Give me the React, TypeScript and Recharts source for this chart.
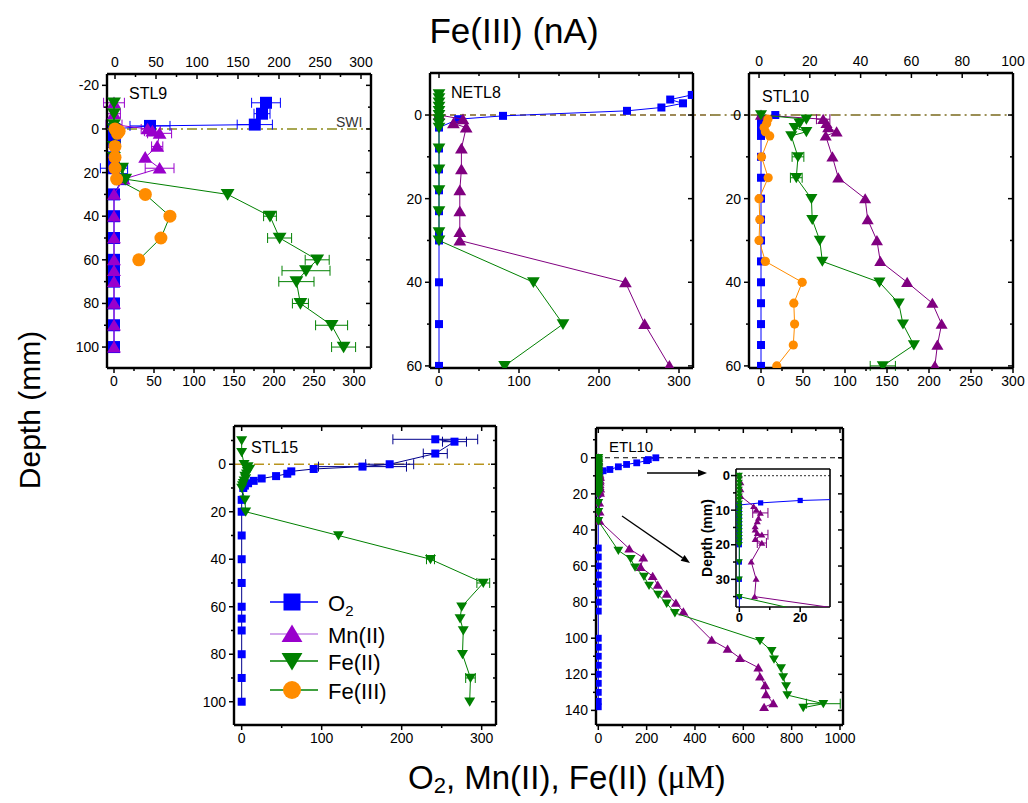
import React from 'react';
import { ScatterChart, Scatter, XAxis, YAxis, ErrorBar, ReferenceLine } from 'recharts';

const BLUE = '#0000FF';
const NAVY = '#00008B';
const PURPLE = '#800080';
const VIOLET = '#9900CC';
const GREEN = '#008000';
const ORANGE = '#FF8C00';
const FONT = "'Liberation Sans', Arial, Helvetica, sans-serif";

// rows are [depth (mm), concentration, error?]
const stl9O2 = [[-12, 190, 18], [-7, 185, 10], [-2, 176, 22], [-1.4, 45, 25], [0, 0], [2, 0], [6, 0, 8], [13, 0], [18, 0, 17], [23, 10, 8], [30, 0], [40, 0], [50, 0], [60, 0], [65, 0], [70, 0], [80, 0], [90, 0], [100, 0]];
const stl9Mn = [[-12, 0, 13], [-7, 0, 8], [-2, 0, 10], [0, 42, 8], [1, 48, 10], [2, 57, 15], [8, 54, 7], [13, 39], [18, 57, 18], [23, 12], [30, 0], [40, 0], [50, 0], [60, 0], [65, 0], [70, 0], [80, 0], [90, 0], [100, 0]];
const stl9Fe2 = [[-12, 0], [-7, 0], [-2, 0], [0, 0], [2, 0], [8, 0], [13, 0], [18, 10], [23, 14], [30, 142], [40, 195, 8], [50, 207, 15], [60, 254, 15], [65, 240, 30], [70, 228, 22], [80, 233, 10], [90, 272, 20], [100, 287, 15]];
const stl9Fe3 = [[0, 0], [1, 5], [2, 3], [8, 0], [13, 0], [18, 0], [23, 2], [30, 37], [40, 67], [50, 56], [60, 29]];

const netl8O2 = [[-4.8, 316], [-3.7, 289], [-2.8, 305], [-1.8, 278], [-1, 235], [0.2, 80], [1, 24], [3, 0], [8, 0], [13, 0], [18, 0], [23, 0], [28, 0], [30, 0], [40, 0], [50, 0], [60, 0]];
const netl8Mn = [[0, 0], [1, 30], [2, 18], [3, 34], [8, 28], [13, 28], [18, 26], [23, 26], [28, 26], [30, 26], [40, 233], [50, 257], [60, 288]];
const netl8Fe2 = [[-5, 0], [-4, 0], [-3, 0], [-2, 0], [-1, 0], [0, 0], [1, 0], [2, 0], [3, 0], [8, 0], [13, 0], [18, 0], [23, 0], [28, 0], [30, 0], [40, 118], [50, 155], [60, 82]];

const stl10O2 = [[0, 17], [1, 0], [2, 0], [3, 0], [4, 0], [5, 0], [10, 0], [15, 0], [20, 0], [25, 0], [30, 0], [35, 0], [40, 0], [45, 0], [50, 0], [55, 0], [60, 0]];
const stl10Mn = [[0, 0], [1, 74, 8], [2, 78], [3, 80], [4, 90], [5, 77], [10, 85], [15, 92], [20, 124], [25, 127], [30, 138], [35, 142], [40, 174], [45, 204], [50, 215], [55, 210], [60, 207]];
const stl10Fe2 = [[0, 0], [1, 54], [2, 46], [3, 40], [4, 54], [5, 36], [10, 44, 7], [15, 42, 7], [20, 60], [25, 61], [30, 70], [35, 73], [40, 141], [45, 164], [50, 169], [55, 182], [60, 145, 15]];
const stl10Fe3 = [[1, 3.5], [2, 3], [3, 2], [4, 2.5], [5, 4.2], [10, 1], [15, 3.6], [20, 0], [25, 0.3], [30, 0], [35, 2.5], [40, 17], [45, 13.7], [50, 14], [55, 13.5], [60, 7]];

const stl15O2 = [[-10.5, 242, 53], [-9.5, 266, 15], [-4.5, 242, 15], [0, 185, 30], [1, 151, 55], [2, 90], [3, 62], [4, 57], [5, 43], [6, 25], [7, 15], [8, 8], [9, 4], [10, 2], [15, 0], [20, 0], [30, 0], [40, 0], [50, 0], [60, 0], [65, 0], [70, 0], [80, 0], [90, 0], [100, 0]];
const stl15Fe2 = [[-10, 0], [-5, 0], [0, 3], [1, 8], [2, 10], [3, 7], [4, 6], [5, 4], [6, 5], [7, 3], [8, 2], [9, 1], [10, 0], [15, 4], [20, 5], [30, 121], [40, 236, 5], [50, 302, 8], [60, 275], [65, 273], [70, 277], [80, 276], [90, 286, 6], [100, 285]];

const etl10O2 = [[0, 238], [1, 207], [1.6, 200], [2.8, 159], [3.7, 117], [5, 83], [6.5, 48], [7.2, 20], [7.9, 7], [8.5, 0], [9, 0], [10, 0], [11, 0], [12, 0], [13, 0], [14, 0], [15, 0], [16, 0], [17, 0], [18, 0], [19, 0], [20, 0], [25, 0], [30, 0], [35, 0], [50, 0], [55, 0], [60, 0], [65, 0], [70, 0], [75, 0], [80, 0], [85, 0], [100, 0], [105, 0], [110, 0], [115, 0], [120, 0], [125, 0], [130, 0], [135, 0], [138, 0]];
const etl10Mn = [[0, 0], [2, 0.5], [4, 0.5], [6, 0.5], [8.9, 4.7], [9.9, 5.6], [10.8, 6.9, 2.5], [12.3, 6.3], [13.3, 5.9], [14.7, 5.2], [15.7, 5.2], [16.7, 5.9], [17.1, 7.4, 2], [18.4, 5.2], [19.5, 7.4, 1.5], [24.9, 3.9], [29.9, 5.5], [35, 5], [50.4, 128], [55.4, 186], [60.6, 175], [65.6, 225], [70.5, 246], [75.5, 283], [80.5, 321], [85.3, 352], [101, 469], [106, 535], [111, 586], [116.3, 662], [121.3, 669], [126.1, 690], [131.1, 694], [136.1, 724], [138.2, 686]];
const etl10Fe2 = [[0, 0], [1, 0], [2, 0], [3, 0], [4, 0], [5, 0], [6, 0], [7, 0], [8, 0], [9, 0], [10, 0], [11, 0], [12, 0], [13, 0], [14, 0], [15, 0], [16, 0], [17, 0], [18, 0], [19, 0], [20, 0], [25, 0], [30, 0], [35, 0], [51.4, 83], [56, 134], [60.7, 152], [65.8, 189], [70.8, 210], [75.8, 248], [80.7, 283], [86, 317], [101.4, 669], [107, 717], [111.7, 727], [116.6, 756], [121.5, 765], [126.5, 777], [131.5, 782], [136.3, 931, 70], [138.5, 848]];

// tick values
const conc300 = [0, 50, 100, 150, 200, 250, 300];
const conc300Minor = [25, 75, 125, 175, 225, 275];
const conc300Wide = [0, 100, 200, 300];
const conc300WideMinor = [50, 150, 250];
const nA100 = [0, 20, 40, 60, 80, 100];
const nA100Minor = [10, 30, 50, 70, 90];
const conc1000 = [0, 200, 400, 600, 800, 1000];
const conc1000Minor = [100, 300, 500, 700, 900];
const depthStl9 = [-20, 0, 20, 40, 60, 80, 100];
const depthStl9Minor = [-10, 10, 30, 50, 70, 90];
const depth60 = [0, 20, 40, 60];
const depth60Minor = [10, 30, 50];
const depth100 = [0, 20, 40, 60, 80, 100];
const depth100Minor = [-10, 10, 30, 50, 70, 90];
const depth140 = [0, 20, 40, 60, 80, 100, 120, 140];
const depth140Minor = [-10, 10, 30, 50, 70, 90, 110, 130];
const insetX = [0, 20];
const insetXMinor = [10];
const insetY = [0, 10, 20, 30];
const insetYMinor = [5, 15, 25, 35];

type Row = number[];
type Kind = 'sq' | 'up' | 'dn' | 'ci';
const pts = (rows: Row[]) => rows.map(([d, x, e]) => ({ d, x, e }));

function marker(kind: Kind, s: number, fill: string) {
  return (p: any) => {
    const cx = p.cx as number;
    const cy = p.cy as number;
    if (cx == null || cy == null) return <g />;
    if (kind === 'sq') return <rect x={cx - s} y={cy - s} width={2 * s} height={2 * s} fill={fill} />;
    if (kind === 'ci') return <circle cx={cx} cy={cy} r={s} fill={fill} />;
    const k = kind === 'up' ? 1 : -1;
    const p3 = `${cx},${cy - k * s} ${cx + 1.1 * s},${cy + k * 0.85 * s} ${cx - 1.1 * s},${cy + k * 0.85 * s}`;
    return <polygon points={p3} fill={fill} />;
  };
}

type Side = 'b' | 't' | 'l' | 'r';
function tickFn(side: Side, majors: number[], labels: boolean, fs: number, bold: boolean, off = 8) {
  return (p: any) => {
    const x = p.x as number;
    const y = p.y as number;
    const v = p.payload?.value as number;
    const major = majors.includes(v);
    const len = major ? 5 : 3;
    const txt = labels && major;
    const st = { stroke: '#000', strokeWidth: 1.5 };
    const tp = { fontSize: fs, fontFamily: FONT, fontWeight: bold ? 700 : 400, fill: '#000' };
    if (side === 'b')
      return (
        <g>
          <line x1={x} x2={x} y1={y} y2={y + len} {...st} />
          {txt && <text x={x} y={y + off} dy="0.71em" textAnchor="middle" {...tp}>{v}</text>}
        </g>
      );
    if (side === 't')
      return (
        <g>
          <line x1={x} x2={x} y1={y} y2={y + len} {...st} />
          {txt && <text x={x} y={y - off + 1} textAnchor="middle" {...tp}>{v}</text>}
        </g>
      );
    if (side === 'l')
      return (
        <g>
          <line x1={x - len} x2={x} y1={y} y2={y} {...st} />
          {txt && <text x={x - off} y={y} dy="0.355em" textAnchor="end" {...tp}>{v}</text>}
        </g>
      );
    return (
      <g>
        <line x1={x - len} x2={x} y1={y} y2={y} {...st} />
      </g>
    );
  };
}

interface SeriesDef {
  rows: Row[];
  kind: Kind;
  s: number;
  fill: string;
  line: string;
  top?: boolean;
}

interface PanelProps {
  frame: number[];
  pad: number[];
  xDom: number[];
  xMaj: number[];
  xMin: number[];
  tDom?: number[];
  tMaj?: number[];
  tMin?: number[];
  yDom: number[];
  yMaj: number[];
  yMin: number[];
  series: SeriesDef[];
  fs?: number;
  bold?: boolean;
  frameW?: number;
  off?: number;
  mirrorTicks?: boolean;
  children?: React.ReactNode;
}

function Panel(p: PanelProps) {
  const [l, t, r, b] = p.frame;
  const [pl, pt, pr, pb] = p.pad;
  const w = r - l + pl + pr;
  const h = b - t + pt + pb;
  const fs = p.fs ?? 14;
  const bold = !!p.bold;
  const off = p.off ?? 8;
  const axisLine = { stroke: '#000', strokeWidth: p.frameW ?? 2.4 };
  const mirror = p.mirrorTicks ?? true;
  const topLabels = !!p.tMaj;
  const tMaj = p.tMaj ?? p.xMaj;
  const tMin = p.tMin ?? p.xMin;
  return (
    <div style={{ position: 'absolute', left: l - pl, top: t - pt, width: w, height: h }}>
      <ScatterChart width={w} height={h} margin={{ top: 0, right: 0, bottom: 0, left: 0 }}>
        <XAxis xAxisId="b" type="number" dataKey="x" orientation="bottom" height={pb} domain={p.xDom} allowDataOverflow
          ticks={[...p.xMaj, ...p.xMin]} interval={0} tickSize={0} tickMargin={0} tickLine={false} axisLine={axisLine}
          tick={tickFn('b', p.xMaj, true, fs, bold, off)} />
        <XAxis xAxisId="t" type="number" dataKey="x" orientation="top" height={pt} domain={p.tDom ?? p.xDom} allowDataOverflow
          ticks={mirror || topLabels ? [...tMaj, ...tMin] : []} interval={0} tickSize={0} tickMargin={0} tickLine={false} axisLine={axisLine}
          tick={tickFn('t', tMaj, topLabels, fs, bold, off)} />
        <YAxis yAxisId="l" type="number" dataKey="d" orientation="left" width={pl} domain={p.yDom} reversed allowDataOverflow
          ticks={[...p.yMaj, ...p.yMin]} interval={0} tickSize={0} tickMargin={0} tickLine={false} axisLine={axisLine}
          tick={tickFn('l', p.yMaj, true, fs, bold, off)} />
        <YAxis yAxisId="r" type="number" dataKey="d" orientation="right" width={pr} domain={p.yDom} reversed allowDataOverflow
          ticks={mirror ? [...p.yMaj, ...p.yMin] : []} interval={0} tickSize={0} tickMargin={0} tickLine={false} axisLine={axisLine}
          tick={tickFn('r', p.yMaj, false, fs, bold, off)} />
        {p.children}
        {p.series.map((s, i) => (
          <Scatter key={i} data={pts(s.rows)} xAxisId={s.top ? 't' : 'b'} yAxisId="l" isAnimationActive={false}
            line={{ stroke: s.line, strokeWidth: 1 }} lineType="joint" shape={marker(s.kind, s.s, s.fill)}>
            <ErrorBar dataKey="e" direction="x" width={5} stroke={s.line} strokeWidth={1} isAnimationActive={false} />
          </Scatter>
        ))}
      </ScatterChart>
    </div>
  );
}

function Arrow({ x1, y1, x2, y2 }: { x1: number; y1: number; x2: number; y2: number }) {
  const a = Math.atan2(y2 - y1, x2 - x1);
  const L = 9;
  const W = 3.5;
  const bx = x2 - L * Math.cos(a);
  const by = y2 - L * Math.sin(a);
  const px = -Math.sin(a) * W;
  const py = Math.cos(a) * W;
  return (
    <g>
      <line x1={x1} y1={y1} x2={bx} y2={by} stroke="#000" strokeWidth={1.3} />
      <polygon points={`${x2},${y2} ${bx + px},${by + py} ${bx - px},${by - py}`} fill="#000" />
    </g>
  );
}

const legendRows = [
  { label: 'O', sub: '2', kind: 'sq' as Kind, s: 8.5, fill: BLUE, line: BLUE, y: 602 },
  { label: 'Mn(II)', sub: '', kind: 'up' as Kind, s: 9.5, fill: VIOLET, line: '#C58BE6', y: 634 },
  { label: 'Fe(II)', sub: '', kind: 'dn' as Kind, s: 9.5, fill: GREEN, line: GREEN, y: 661 },
  { label: 'Fe(III)', sub: '', kind: 'ci' as Kind, s: 9, fill: ORANGE, line: GREEN, y: 690 },
];

export default function App() {
  const tt = { fontFamily: FONT, fill: '#000' };
  return (
    <div style={{ position: 'absolute', left: 0, top: 0, width: 1028, height: 803, background: '#fff', fontFamily: FONT }}>
      <Panel frame={[107, 74, 371, 368]} pad={[45, 25, 10, 28]} xDom={[-8.75, 321.25]} xMaj={conc300} xMin={conc300Minor}
        tDom={[-9.76, 312.2]} tMaj={conc300} tMin={conc300Minor} yDom={[-25.2, 109.6]} yMaj={depthStl9} yMin={depthStl9Minor}
        series={[
          { rows: stl9O2, kind: 'sq', s: 6, fill: BLUE, line: BLUE },
          { rows: stl9Mn, kind: 'up', s: 6.3, fill: VIOLET, line: VIOLET },
          { rows: stl9Fe2, kind: 'dn', s: 6.3, fill: GREEN, line: GREEN },
          { rows: stl9Fe3, kind: 'ci', s: 6.5, fill: ORANGE, line: GREEN, top: true },
        ]}>
        <ReferenceLine xAxisId="b" yAxisId="l" y={0} stroke="#8C8A1A" strokeWidth={1.5} strokeDasharray="10 4 2 4" />
      </Panel>

      <Panel frame={[430, 73, 693, 368]} pad={[45, 10, 22, 28]} xDom={[-11.25, 317.5]} xMaj={conc300Wide} xMin={conc300WideMinor}
        yDom={[-10.05, 60.5]} yMaj={depth60} yMin={depth60Minor}
        series={[
          { rows: netl8O2, kind: 'sq', s: 4, fill: BLUE, line: BLUE },
          { rows: netl8Mn, kind: 'up', s: 5.8, fill: PURPLE, line: PURPLE },
          { rows: netl8Fe2, kind: 'dn', s: 5.8, fill: GREEN, line: GREEN },
        ]}>
        <ReferenceLine xAxisId="b" yAxisId="l" segment={[{ x: -11.25, y: 0 }, { x: 340, y: 0 }]} ifOverflow="visible"
          stroke="#7F6322" strokeWidth={1.5} strokeDasharray="6 4" />
      </Panel>

      <Panel frame={[749, 73, 1013, 368]} pad={[55, 25, 12, 28]} xDom={[-14.3, 300]} xMaj={conc300} xMin={conc300Minor}
        tDom={[-3.95, 100]} tMaj={nA100} tMin={nA100Minor} yDom={[-10.05, 60.5]} yMaj={depth60} yMin={depth60Minor}
        series={[
          { rows: stl10O2, kind: 'sq', s: 4, fill: BLUE, line: BLUE },
          { rows: stl10Mn, kind: 'up', s: 5.5, fill: PURPLE, line: PURPLE },
          { rows: stl10Fe2, kind: 'dn', s: 5.5, fill: GREEN, line: GREEN },
          { rows: stl10Fe3, kind: 'ci', s: 4.6, fill: ORANGE, line: ORANGE, top: true },
        ]}>
        <ReferenceLine xAxisId="b" yAxisId="l" segment={[{ x: -60, y: 0 }, { x: 300, y: 0 }]} ifOverflow="visible"
          stroke="#7A6A1E" strokeWidth={1.5} strokeDasharray="10 4 2 4" />
      </Panel>

      <Panel frame={[234, 426, 496, 725]} pad={[45, 10, 10, 28]} xDom={[-9.6, 317.9]} xMaj={conc300Wide} xMin={conc300WideMinor}
        yDom={[-16.1, 109.8]} yMaj={depth100} yMin={depth100Minor}
        series={[
          { rows: stl15O2, kind: 'sq', s: 4, fill: BLUE, line: NAVY },
          { rows: stl15Fe2, kind: 'dn', s: 5, fill: GREEN, line: GREEN },
        ]}>
        <ReferenceLine xAxisId="b" yAxisId="l" y={0} stroke="#B8941E" strokeWidth={1.5} strokeDasharray="10 4 2 4" />
      </Panel>

      <Panel frame={[596, 428, 843, 725]} pad={[45, 10, 22, 28]} xDom={[-9.5, 1012.4]} xMaj={conc1000} xMin={conc1000Minor}
        yDom={[-16.5, 148.1]} yMaj={depth140} yMin={depth140Minor}
        series={[
          { rows: etl10O2, kind: 'sq', s: 3.4, fill: BLUE, line: BLUE },
          { rows: etl10Mn, kind: 'up', s: 4.5, fill: PURPLE, line: PURPLE },
          { rows: etl10Fe2, kind: 'dn', s: 4.5, fill: GREEN, line: GREEN },
        ]}>
        <ReferenceLine xAxisId="b" yAxisId="l" y={0} stroke="#000" strokeWidth={1.2} strokeDasharray="5 4" />
      </Panel>

      <div style={{ position: 'absolute', left: 736, top: 469, width: 94, height: 138, background: '#fff' }} />
      <Panel frame={[736, 469, 830, 607]} pad={[32, 4, 4, 22]} xDom={[-1.1, 29.8]} xMaj={insetX} xMin={insetXMinor}
        yDom={[-1.9, 38]} yMaj={insetY} yMin={insetYMinor} fs={13} bold frameW={1.6} off={6} mirrorTicks={false}
        series={[
          { rows: etl10O2, kind: 'sq', s: 2.6, fill: BLUE, line: BLUE },
          { rows: etl10Mn, kind: 'up', s: 3.2, fill: PURPLE, line: PURPLE },
          { rows: etl10Fe2, kind: 'dn', s: 3.2, fill: GREEN, line: GREEN },
        ]}>
        <ReferenceLine xAxisId="b" yAxisId="l" y={0} stroke="#555" strokeWidth={1.2} strokeDasharray="2 2" />
      </Panel>

      <svg width={1028} height={803} style={{ position: 'absolute', left: 0, top: 0, pointerEvents: 'none' }}>
        <text x={514} y={30} textAnchor="middle" dominantBaseline="central" fontSize={35} {...tt}>Fe(III) (nA)</text>
        <text x={29} y={410} textAnchor="middle" dominantBaseline="central" fontSize={30} transform="rotate(-90 29 410)" {...tt}>Depth (mm)</text>
        <text x={408} y={777} textAnchor="start" dominantBaseline="central" fontSize={33} {...tt}>
          <tspan>O</tspan>
          <tspan fontSize={22} dy={8}>2</tspan>
          <tspan dy={-8}>, Mn(II), Fe(II) (</tspan>
          <tspan fontFamily="'Liberation Serif', 'Times New Roman', serif">μM</tspan>
          <tspan>)</tspan>
        </text>

        <text x={129} y={93} dominantBaseline="central" fontSize={16} {...tt}>STL9</text>
        <text x={451} y={92} dominantBaseline="central" fontSize={16} {...tt}>NETL8</text>
        <text x={762} y={96} dominantBaseline="central" fontSize={16} {...tt}>STL10</text>
        <text x={251} y={447} dominantBaseline="central" fontSize={16} {...tt}>STL15</text>
        <text x={609} y={446} dominantBaseline="central" fontSize={15} {...tt}>ETL10</text>
        <text x={336} y={122} dominantBaseline="central" fontSize={14} fontFamily={FONT} fill="#333">SWI</text>

        {legendRows.map((row) => (
          <g key={row.label}>
            <line x1={270} x2={318} y1={row.y} y2={row.y} stroke={row.line} strokeWidth={1.3} />
            {marker(row.kind, row.s, row.fill)({ cx: 292, cy: row.y })}
            <text x={328} y={row.y + 1} dominantBaseline="central" fontSize={22} {...tt}>
              {row.label}
              {row.sub && <tspan fontSize={15} dy={7}>{row.sub}</tspan>}
            </text>
          </g>
        ))}

        <Arrow x1={647} y1={473} x2={707} y2={473} />
        <Arrow x1={622} y1={516} x2={690} y2={563} />

        <text x={707} y={538} textAnchor="middle" dominantBaseline="central" fontSize={14} fontWeight={700}
          transform="rotate(-90 707 538)" {...tt}>Depth (mm)</text>
      </svg>
    </div>
  );
}
